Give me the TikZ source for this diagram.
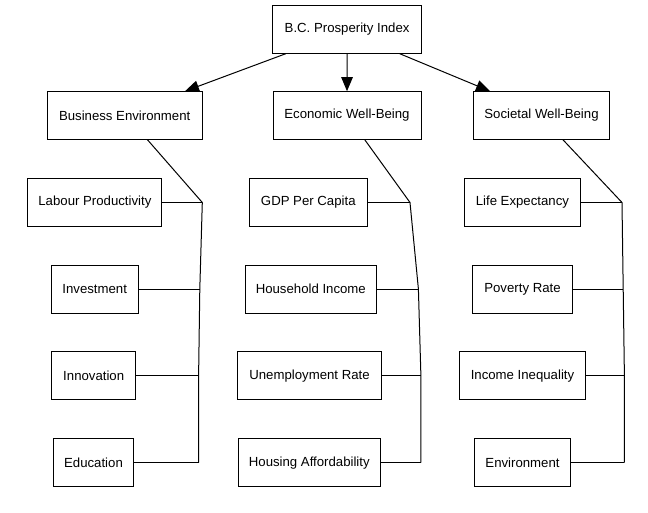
\documentclass[tikz,border=0pt]{standalone}
\usepackage{fontspec}
\setmainfont{Liberation Sans}
\usetikzlibrary{arrows.meta}
\begin{document}
\begin{tikzpicture}[x=1pt,y=-1pt,
  box/.style={draw=black,line width=1pt,inner sep=0pt,align=center,
    font=\fontsize{13.2}{15}\selectfont},
  conn/.style={draw=black,line width=1pt},
  arr/.style={conn,-{Triangle[length=14pt,width=11.5pt]}}]
\useasboundingbox (0,0) rectangle (648,513);
% top
\node[box,minimum width=149pt,minimum height=48pt] (top) at (347.1,29.2) {B.C. Prosperity Index};
% categories
\node[box,minimum width=155pt,minimum height=47.6pt] (be) at (124.7,115.5) {Business Environment};
\node[box,minimum width=148pt,minimum height=47.6pt] (ew) at (347,115.5) {Economic Well-Being};
\node[box,minimum width=136pt,minimum height=47.6pt] (sw) at (541.5,115.5) {Societal Well-Being};
% leaves column 1
\node[box,minimum width=134pt,minimum height=48pt] (lp) at (94.9,202.5) {Labour Productivity};
\node[box,minimum width=87pt,minimum height=48pt] (inv) at (94.7,289) {Investment};
\node[box,minimum width=83.5pt,minimum height=48pt] (inn) at (93.7,375.8) {Innovation};
\node[box,minimum width=80.6pt,minimum height=48pt] (edu) at (93.5,462.7) {Education};
% leaves column 2
\node[box,minimum width=118pt,minimum height=48pt] (gdp) at (308.3,202.5) {GDP Per Capita};
\node[box,minimum width=131.3pt,minimum height=48pt] (hi) at (310.8,289) {Household Income};
\node[box,minimum width=143.8pt,minimum height=48pt] (ur) at (309.5,375.8) {Unemployment Rate};
\node[box,minimum width=142.6pt,minimum height=48pt] (ha) at (309.3,462.7) {Housing Affordability};
% leaves column 3
\node[box,minimum width=116.8pt,minimum height=48pt] (le) at (522.4,202.5) {Life Expectancy};
\node[box,minimum width=99.3pt,minimum height=48pt] (pr) at (522.5,289) {Poverty Rate};
\node[box,minimum width=126.7pt,minimum height=48pt] (ii) at (522.5,375.8) {Income Inequality};
\node[box,minimum width=95.1pt,minimum height=48pt] (env) at (522.5,462.7) {Environment};
% arrows
\draw[arr] ([xshift=-61.3pt]top.south) -- ([xshift=60.3pt]be.north);
\draw[arr] (top.south) -- (ew.north);
\draw[arr] ([xshift=52.6pt]top.south) -- ([xshift=-51.5pt]sw.north);
% joints
\coordinate (b1) at (202.3,202.5);
\coordinate (b2) at (199.8,289);
\coordinate (b3) at (198.6,375.8);
\coordinate (b4) at (198.6,462.7);
\coordinate (e1) at (410,202.5);
\coordinate (e2) at (418.4,289);
\coordinate (e3) at (420.9,375.8);
\coordinate (e4) at (420.9,462.7);
\coordinate (s1) at (622,202.5);
\coordinate (s2) at (623.2,289);
\coordinate (s3) at (624.4,375.8);
\coordinate (s4) at (624.4,462.7);
% trunks
\draw[conn] ([xshift=22.8pt]be.south) -- (b1) -- (b2) -- (b3) -- (b4);
\draw[conn] ([xshift=17.8pt]ew.south) -- (e1) -- (e2) -- (e3) -- (e4);
\draw[conn] ([xshift=21.5pt]sw.south) -- (s1) -- (s2) -- (s3) -- (s4);
% branches
\draw[conn] (lp.east) -- (b1);
\draw[conn] (inv.east) -- (b2);
\draw[conn] (inn.east) -- (b3);
\draw[conn] (edu.east) -- (b4);
\draw[conn] (gdp.east) -- (e1);
\draw[conn] (hi.east) -- (e2);
\draw[conn] (ur.east) -- (e3);
\draw[conn] (ha.east) -- (e4);
\draw[conn] (le.east) -- (s1);
\draw[conn] (pr.east) -- (s2);
\draw[conn] (ii.east) -- (s3);
\draw[conn] (env.east) -- (s4);
\end{tikzpicture}
\end{document}
